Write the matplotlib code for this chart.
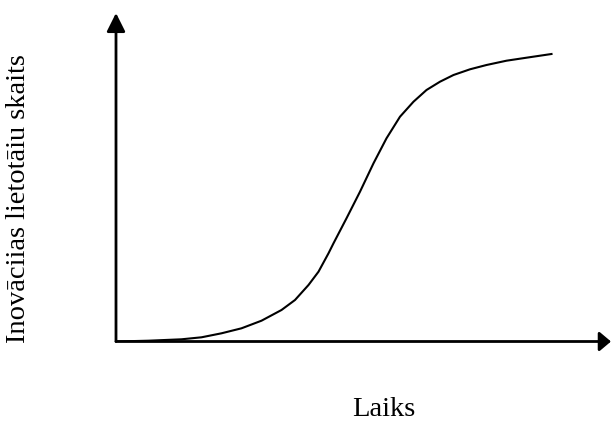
import matplotlib.pyplot as plt

# S-curve of innovation adoption
laiks = [0, 6.5, 13.1, 17.1, 21.1, 25.1, 29.1, 33.1, 35.8, 38.5, 40.5, 42.5,
         43.5, 46.1, 48.8, 51.5, 54.1, 56.8, 59.5, 62.1, 64.8, 67.5, 70.8,
         74.1, 78.1, 82.1, 87.1]
lietotaji = [0, 0.24, 0.66, 1.26, 2.46, 3.96, 6.24, 9.45, 12.45, 16.95, 20.94,
             26.46, 29.46, 36.96, 44.94, 53.46, 60.96, 67.44, 71.94, 75.45,
             77.94, 79.95, 81.66, 82.95, 84.24, 85.14, 86.25]

xlabel = "Laiks"
ylabel = "Inovāciias lietotāiu skaits"

plt.rcParams['font.family'] = ['Liberation Serif', 'DejaVu Serif']

W, H = 611, 421
fig = plt.figure(figsize=(W / 100, H / 100), dpi=100)
ax = fig.add_axes([116 / W, (H - 341.5) / H, (611 - 116) / W, (341.5 - 13) / H])
ax.set_xlim(0, 99)
ax.set_ylim(0, 98.55)
ax.axis('off')

ax.plot(laiks, lietotaji, color='black', lw=1.5, solid_joinstyle='round')

# axes with arrow heads
ax.annotate('', xy=(0, 1), xytext=(0, 0), xycoords='axes fraction',
            arrowprops=dict(arrowstyle='-|>,head_length=0.8,head_width=0.4',
                            mutation_scale=14, lw=2, color='black',
                            shrinkA=0, shrinkB=0))
ax.annotate('', xy=(1, 0), xytext=(0, 0), xycoords='axes fraction',
            arrowprops=dict(arrowstyle='-|>,head_length=0.5,head_width=0.42',
                            mutation_scale=14, lw=2, color='black',
                            shrinkA=0, shrinkB=0))

fig.text(384 / W, (H - 416) / H, xlabel, fontsize=20.5, ha='center', va='baseline')
fig.text(25 / W, (H - 199) / H, ylabel, fontsize=20.5, rotation=90,
         rotation_mode='anchor', ha='center', va='baseline')

fig.savefig('out.png', dpi=100, facecolor='white')
